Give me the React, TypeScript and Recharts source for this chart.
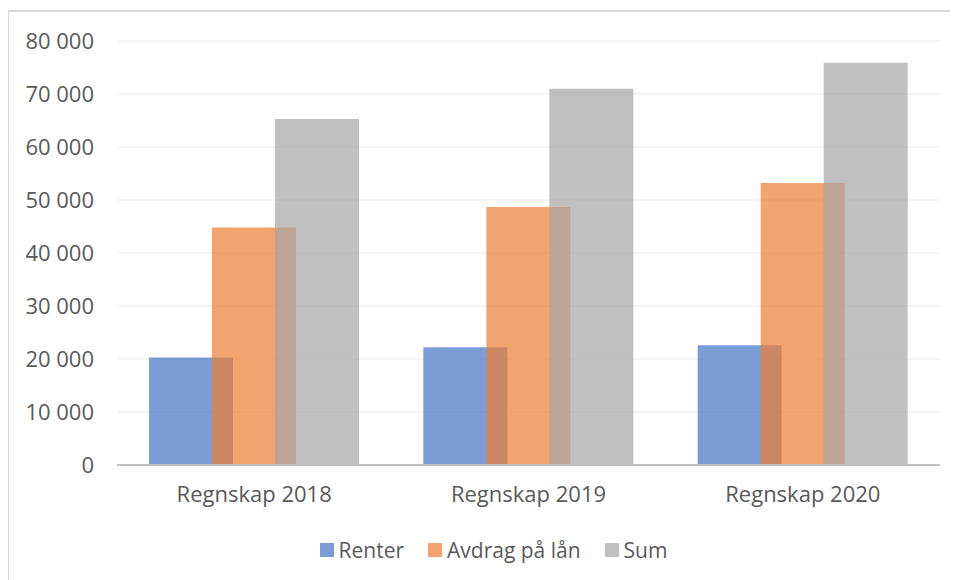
import { BarChart, Bar, XAxis, YAxis, CartesianGrid, Legend } from "recharts";

const categories = ["Regnskap 2018", "Regnskap 2019", "Regnskap 2020"];
const renter = [20300, 22200, 22600];
const avdrag = [44800, 48700, 53200];
const sum = [65300, 71000, 75900];
const yTicks = [0, 10000, 20000, 30000, 40000, 50000, 60000, 70000, 80000];

const series = [
  { key: "renter", name: "Renter", color: "#4472C4" },
  { key: "avdrag", name: "Avdrag på lån", color: "#ED7D31" },
  { key: "sum", name: "Sum", color: "#A5A5A5" },
];

const data = categories.map((c, i) => ({
  name: c,
  renter: renter[i],
  avdrag: avdrag[i],
  sum: sum[i],
}));

const font = "'Open Sans', sans-serif";
const textColor = "#595959";

function formatNumber(v: number) {
  return String(v).replace(/\B(?=(\d{3})+(?!\d))/g, " ");
}

function LegendContent() {
  return (
    <div style={{ display: "flex", justifyContent: "center", alignItems: "center", paddingLeft: 38, fontFamily: font, fontSize: 21, color: textColor }}>
      {series.map((s, i) => (
        <div key={s.key} style={{ display: "flex", alignItems: "center", marginRight: i < series.length - 1 ? 24 : 0 }}>
          <div style={{ width: 14, height: 14, backgroundColor: s.color, opacity: 0.7, marginRight: 5 }} />
          <span>{s.name}</span>
        </div>
      ))}
    </div>
  );
}

export default function App() {
  return (
    <div style={{ marginTop: 2, width: 942, height: 570, borderTop: "2px solid #D9D9D9", borderLeft: "1px solid #D9D9D9" }}>
      <BarChart
        width={940}
        height={568}
        data={data}
        margin={{ top: 29, right: 9, left: 0, bottom: 14 }}
        barSize={84}
        barGap={-21}
      >
        <CartesianGrid vertical={false} stroke="#EBEBEB" />
        <XAxis
          dataKey="name"
          height={71}
          axisLine={{ stroke: "#BFBFBF", strokeWidth: 2 }}
          tickLine={false}
          tickMargin={15}
          tick={{ fill: textColor, fontSize: 22, fontFamily: font }}
        />
        <YAxis
          width={108}
          domain={[0, 80000]}
          ticks={yTicks}
          axisLine={false}
          tickLine={false}
          tickMargin={17}
          tickFormatter={formatNumber}
          tick={{ fill: textColor, fontSize: 22, fontFamily: font }}
        />
        <Legend verticalAlign="bottom" height={30} content={<LegendContent />} />
        {series.map((s) => (
          <Bar key={s.key} dataKey={s.key} name={s.name} fill={s.color} fillOpacity={0.7} isAnimationActive={false} />
        ))}
      </BarChart>
    </div>
  );
}
